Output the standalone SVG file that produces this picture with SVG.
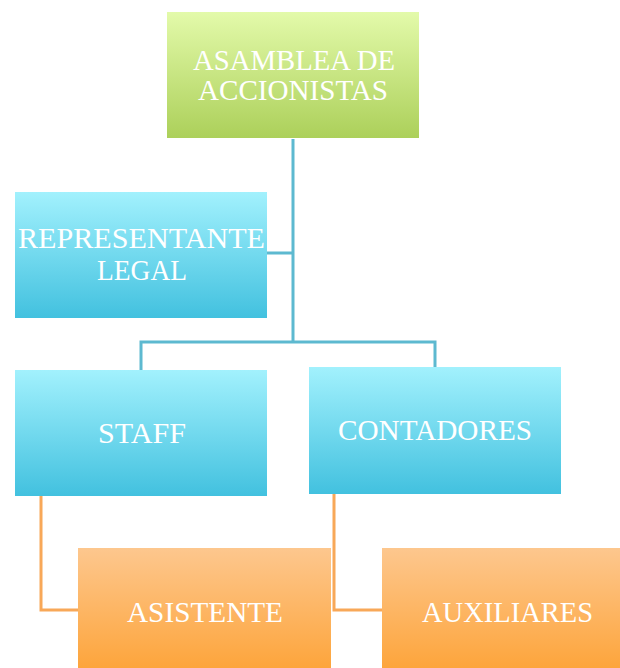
<svg xmlns="http://www.w3.org/2000/svg" width="620" height="668" viewBox="0 0 620 668">
<defs>
<linearGradient id="gGreen" x1="0" y1="0" x2="0" y2="1"><stop offset="0" stop-color="#E3FAAA"/><stop offset="1" stop-color="#ACD05A"/></linearGradient>
<linearGradient id="gBlue" x1="0" y1="0" x2="0" y2="1"><stop offset="0" stop-color="#A2F1FD"/><stop offset="1" stop-color="#42C1DF"/></linearGradient>
<linearGradient id="gOrange" x1="0" y1="0" x2="0" y2="1"><stop offset="0" stop-color="#FDC78E"/><stop offset="1" stop-color="#FDA53C"/></linearGradient>
</defs>
<style>
.t{font-family:"Liberation Serif","DejaVu Serif",serif;font-size:30px;fill:#FFFFFF;text-anchor:middle}
.cb{fill:none;stroke:#5DB9D0;stroke-width:3}
.co{fill:none;stroke:#F8A858;stroke-width:3}
</style>
<g id="connectors">
<path class="cb" d="M293 139 V342 M267 253 H293 M141 370 V342 H435 V367"/>
<path class="co" d="M41 496 V610 H78 M334 494 V610 H382"/>
</g>
<g id="asamblea">
<rect x="167" y="12" width="252" height="126" fill="url(#gGreen)"/>
<text class="t" x="294" y="70" textLength="202" lengthAdjust="spacingAndGlyphs">ASAMBLEA DE</text>
<text class="t" x="293" y="100" textLength="190" lengthAdjust="spacingAndGlyphs">ACCIONISTAS</text>
</g>
<g id="representante">
<rect x="15" y="192" width="252" height="126" fill="url(#gBlue)"/>
<text class="t" x="141.5" y="248" textLength="247" lengthAdjust="spacingAndGlyphs">REPRESENTANTE</text>
<text class="t" x="142" y="280" textLength="90" lengthAdjust="spacingAndGlyphs">LEGAL</text>
</g>
<g id="staff">
<rect x="15" y="370" width="252" height="126" fill="url(#gBlue)"/>
<text class="t" x="142" y="443" textLength="88" lengthAdjust="spacingAndGlyphs">STAFF</text>
</g>
<g id="contadores">
<rect x="309" y="367" width="252" height="127" fill="url(#gBlue)"/>
<text class="t" x="435" y="440" textLength="194" lengthAdjust="spacingAndGlyphs">CONTADORES</text>
</g>
<g id="asistente">
<rect x="78" y="548" width="253" height="120" fill="url(#gOrange)"/>
<text class="t" x="205" y="622" textLength="156" lengthAdjust="spacingAndGlyphs">ASISTENTE</text>
</g>
<g id="auxiliares">
<rect x="382" y="548" width="238" height="120" fill="url(#gOrange)"/>
<text class="t" x="507.5" y="622" textLength="171" lengthAdjust="spacingAndGlyphs">AUXILIARES</text>
</g>
</svg>
